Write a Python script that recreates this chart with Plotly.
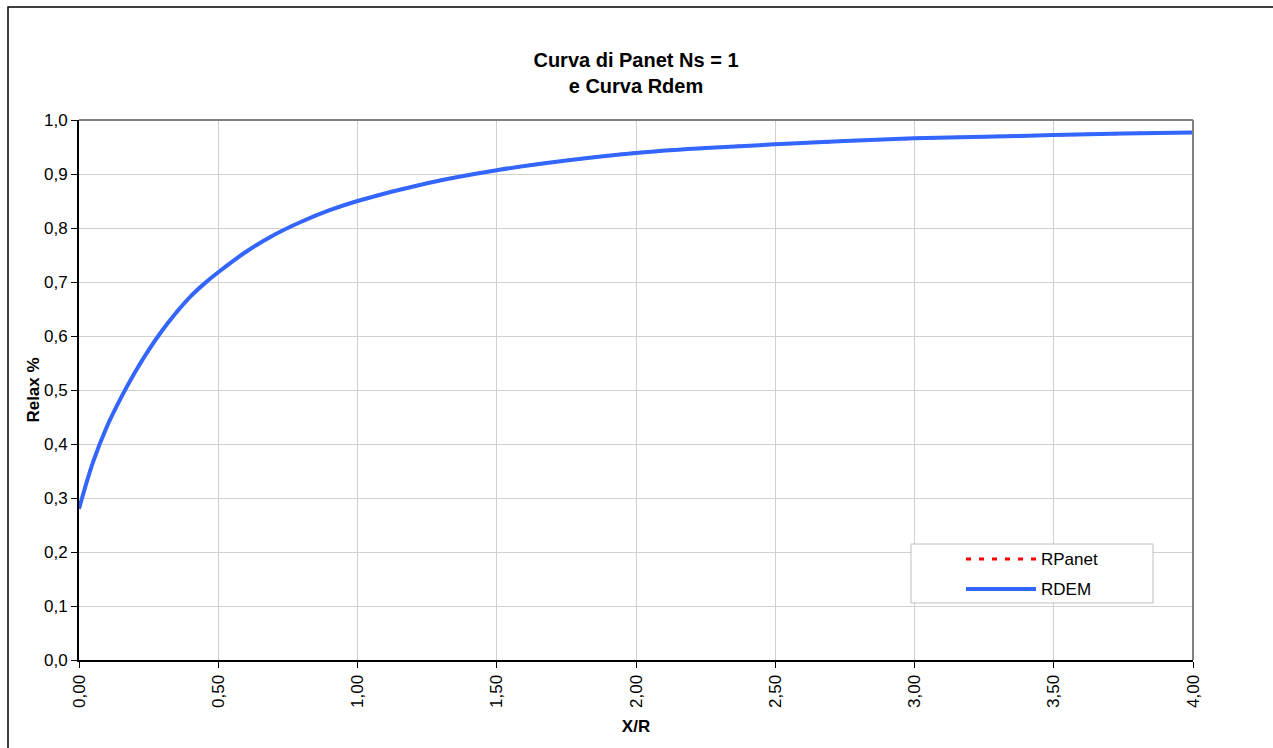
import plotly.graph_objects as go

# Relaxation curve readings: X/R against Relax %
x_r = [0.00, 0.05, 0.10, 0.15, 0.20, 0.25, 0.30, 0.35, 0.40, 0.45, 0.50,
       0.60, 0.70, 0.80, 0.90, 1.00, 1.25, 1.50, 1.75, 2.00, 2.25, 2.50,
       2.75, 3.00, 3.25, 3.50, 3.75, 4.00]
r_panet = [0.280, 0.366, 0.432, 0.485, 0.532, 0.574, 0.611, 0.644, 0.673, 0.697, 0.718,
           0.756, 0.787, 0.812, 0.833, 0.850, 0.883, 0.907, 0.925, 0.939, 0.948, 0.955,
           0.961, 0.966, 0.969, 0.972, 0.975, 0.977]
r_dem = [0.280, 0.366, 0.432, 0.485, 0.532, 0.574, 0.611, 0.644, 0.673, 0.697, 0.718,
         0.756, 0.787, 0.812, 0.833, 0.850, 0.883, 0.907, 0.925, 0.939, 0.948, 0.955,
         0.961, 0.966, 0.969, 0.972, 0.975, 0.977]

x_ticks = [0, 0.5, 1.0, 1.5, 2.0, 2.5, 3.0, 3.5, 4.0]
y_ticks = [0.0, 0.1, 0.2, 0.3, 0.4, 0.5, 0.6, 0.7, 0.8, 0.9, 1.0]

FONT = "Liberation Sans, Arial, sans-serif"
PANET_LINE = dict(color="#FF0000", width=3, dash="5px,8px")
DEM_LINE = dict(color="#3366FF", width=4)

fig = go.Figure()
fig.add_trace(go.Scatter(x=x_r, y=r_panet, name="RPanet", mode="lines",
                         line=dict(**PANET_LINE, shape="spline")))
fig.add_trace(go.Scatter(x=x_r, y=r_dem, name="RDEM", mode="lines",
                         line=dict(**DEM_LINE, shape="spline")))

W, H = 1273, 748
L, R, T, B = 79, 80, 120, 88
pw, ph = W - L - R, H - T - B


def px(xp):
    return (xp - L) / pw


def py(yp):
    return (H - B - yp) / ph


shapes = [
    # plot area frame (top and right edges)
    dict(type="line", xref="paper", yref="paper", x0=0, x1=1, y0=1, y1=1,
         line=dict(color="#808080", width=2)),
    dict(type="line", xref="paper", yref="paper", x0=1, x1=1, y0=0, y1=1,
         line=dict(color="#808080", width=2)),
    # chart area border
    dict(type="rect", xref="paper", yref="paper",
         x0=px(8), x1=px(1290), y0=py(760), y1=py(7),
         line=dict(color="black", width=1.5), layer="below"),
    # legend box
    dict(type="rect", xref="paper", yref="paper",
         x0=px(911), x1=px(1153), y0=py(603), y1=py(544),
         line=dict(color="#C0C0C0", width=1), fillcolor="white", layer="above"),
]
annotations = []
for i, tr in enumerate(fig.data):
    yrow = 559 + 30 * i
    shapes.append(dict(type="line", xref="paper", yref="paper",
                       x0=px(966), x1=px(1036), y0=py(yrow), y1=py(yrow),
                       line=dict(color=tr.line.color, width=tr.line.width,
                                 dash=tr.line.dash),
                       layer="above"))
    annotations.append(dict(text=tr.name, xref="paper", yref="paper",
                            x=px(1039), y=py(yrow), xanchor="left", yanchor="middle",
                            showarrow=False,
                            font=dict(family=FONT, size=17, color="black")))

fig.update_layout(
    width=W, height=H,
    margin=dict(l=L, r=R, t=T, b=B),
    paper_bgcolor="white", plot_bgcolor="white",
    separators=",.",
    font=dict(family=FONT, size=17, color="black"),
    title=dict(text="<b>Curva di Panet Ns = 1<br>e Curva Rdem</b>",
               x=0.5, xanchor="center", xref="paper",
               y=1 - 67 / H, yanchor="middle",
               font=dict(family=FONT, size=20, color="black")),
    showlegend=False,
    xaxis=dict(range=[0, 4], tickvals=x_ticks, tickformat=".2f", tickangle=-90,
               showgrid=True, gridcolor="#D0D0D0", gridwidth=1,
               showline=True, linecolor="black", linewidth=2,
               ticks="outside", ticklen=6, tickcolor="black",
               zeroline=False, tickfont=dict(size=17),
               title=dict(text="<b>X/R</b>", standoff=13,
                          font=dict(family=FONT, size=17))),
    yaxis=dict(range=[0, 1], tickvals=y_ticks, tickformat=".1f",
               showgrid=True, gridcolor="#D0D0D0", gridwidth=1,
               showline=True, linecolor="black", linewidth=2,
               ticks="outside", ticklen=6, tickcolor="black",
               zeroline=False, tickfont=dict(size=17),
               title=dict(text="<b>Relax %</b>", standoff=0,
                          font=dict(family=FONT, size=17))),
    shapes=shapes,
    annotations=annotations,
)

fig.write_html("out.html")
